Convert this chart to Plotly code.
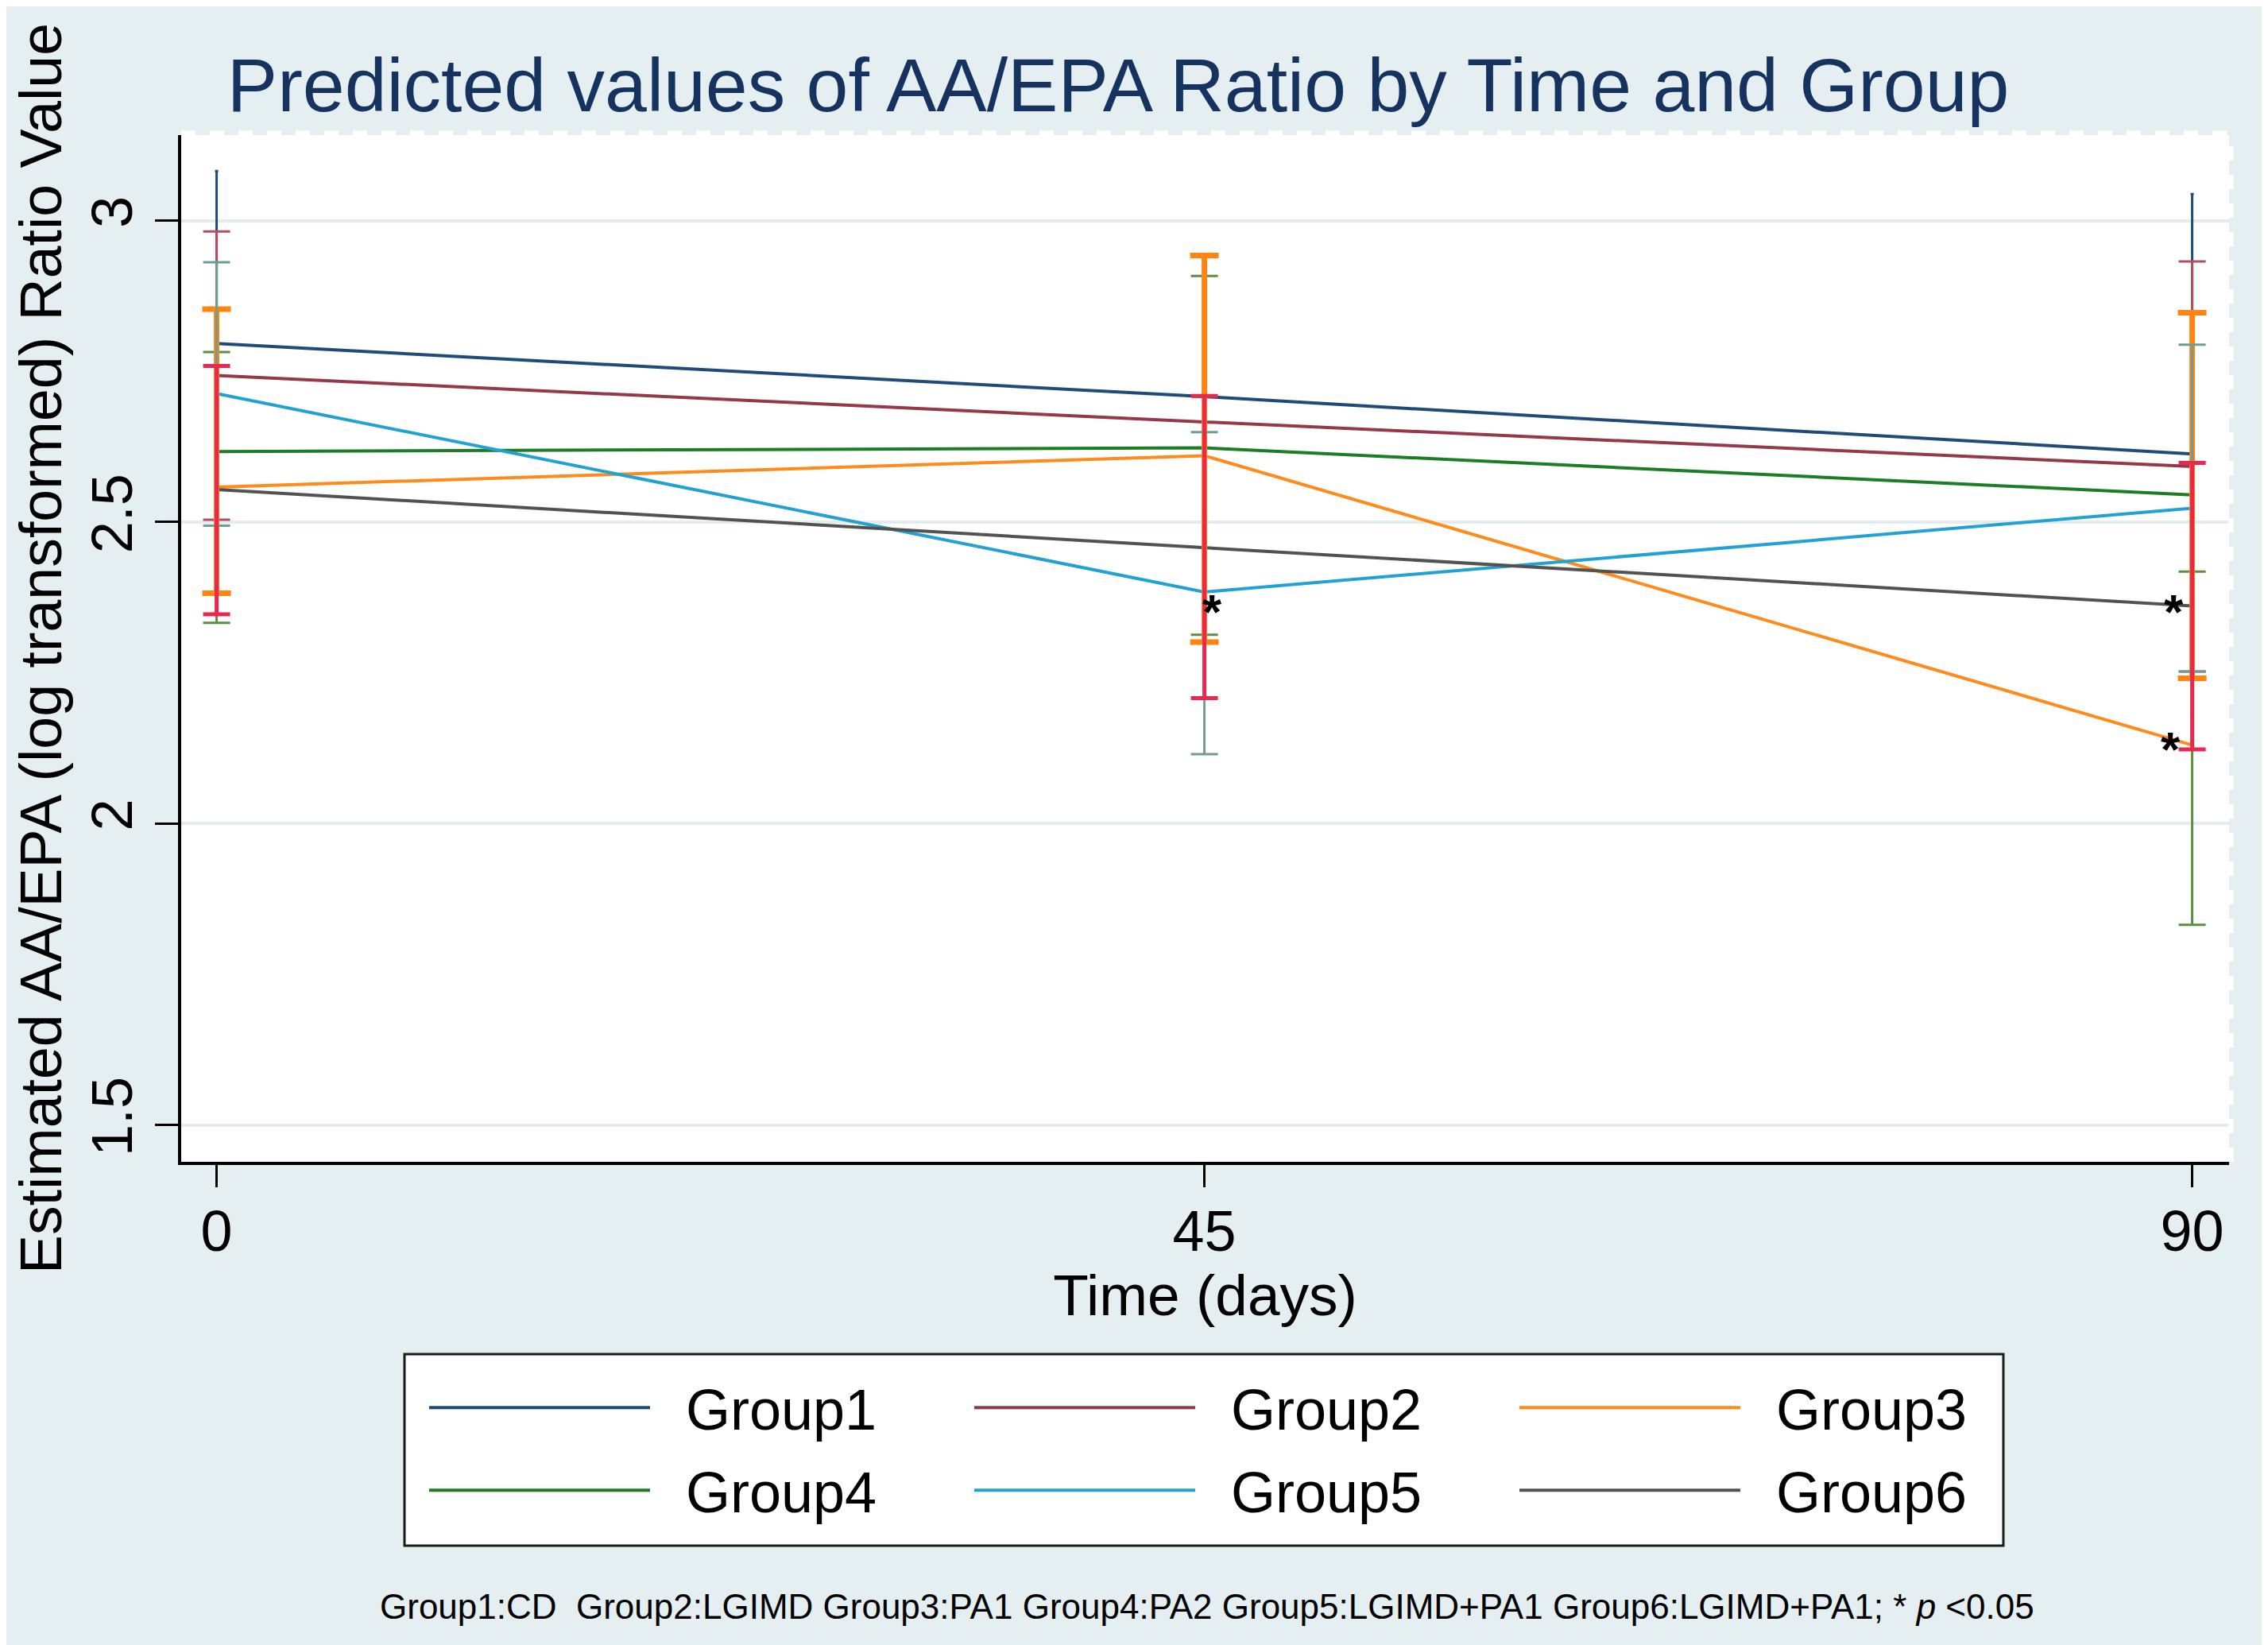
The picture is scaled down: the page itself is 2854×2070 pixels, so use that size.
import plotly.graph_objects as go

# ---------------- data ----------------
time = [0, 45, 90]
groups = ["Group1", "Group2", "Group3", "Group4", "Group5", "Group6"]

group1 = [2.796, 2.708, 2.613]
group2 = [2.743, 2.666, 2.592]
group3 = [2.558, 2.610, 2.130]
group4 = [2.617, 2.623, 2.545]
group5 = [2.713, 2.384, 2.523]
group6 = [2.554, 2.458, 2.361]

# confidence limits (None = not drawn)
ci_lo1 = [2.510, None, 2.182]
ci_hi1 = [3.082, None, 3.044]
ci_lo2 = [2.504, None, 2.252]
ci_hi2 = [2.982, None, 2.932]
ci_lo3 = [2.333, 2.313, 1.832]
ci_hi3 = [2.782, 2.908, 2.418]
ci_lo4 = [2.382, 2.301, 2.241]
ci_hi4 = [2.853, 2.942, 2.847]
ci_lo5 = [2.494, 2.115, 2.252]
ci_hi5 = [2.931, 2.649, 2.794]
ci_lo6 = [2.347, 2.208, 2.123]
ci_hi6 = [2.759, 2.709, 2.598]

# significance markers: (time, group)
star_times = [45, 90, 90]
star_groups = ["Group5", "Group6", "Group3"]

y_tickvals = [1.5, 2, 2.5, 3]
y_ticktext = ["1.5", "2", "2.5", "3"]
x_tickvals = [0, 45, 90]
x_ticktext = ["0", "45", "90"]

footnote = ("Group1:CD\u00a0 Group2:LGIMD Group3:PA1 Group4:PA2 Group5:LGIMD+PA1 "
            "Group6:LGIMD+PA1; * <i>p</i> <0.05")

# ---------------- styles ----------------
FONT = "Liberation Sans, Arial, sans-serif"
line_colors = ["#1f4b78", "#94394a", "#ff8c1a", "#1d7d25", "#22a2d2", "#525252"]
ci_colors = ["#1f4b78", "#b25062", "#5b8f45", "#ff8512", "#6f9c93", "#e8294f"]
ci_thick = [3, 3, 3, 7, 3, 5]
cap_width = [2, 17, 17, 18, 17, 17]
legend_ids = ["legend", "legend", "legend", "legend2", "legend2", "legend2"]
star_shift = [(10, -25), (-23, -7), (-27, -5)]

series = [group1, group2, group3, group4, group5, group6]
ci_lo = [ci_lo1, ci_lo2, ci_lo3, ci_lo4, ci_lo5, ci_lo6]
ci_hi = [ci_hi1, ci_hi2, ci_hi3, ci_hi4, ci_hi5, ci_hi6]

fig = go.Figure()

# lines
for name, vals, col, lg in zip(groups, series, line_colors, legend_ids):
    fig.add_trace(go.Scatter(
        x=time, y=vals, mode="lines", name="\u00a0\u00a0" + name,
        line=dict(color=col, width=4), legend=lg,
        hoverinfo="skip"))

# confidence intervals
for i, (vals, lo, hi) in enumerate(zip(series, ci_lo, ci_hi)):
    yc, up, dn = [], [], []
    for v, l, h in zip(vals, lo, hi):
        if l is None:
            yc.append(None); up.append(0); dn.append(0)
        else:
            yc.append(v); up.append(h - v); dn.append(v - l)
    fig.add_trace(go.Scatter(
        x=time, y=yc, mode="markers", showlegend=False,
        marker=dict(size=1, color="rgba(0,0,0,0)"),
        error_y=dict(type="data", symmetric=False, array=up, arrayminus=dn,
                     color=ci_colors[i], thickness=ci_thick[i], width=cap_width[i]),
        hoverinfo="skip"))

# asterisks
lookup = dict(zip(groups, series))
annotations = []
for (t, g), (dx, dy) in zip(zip(star_times, star_groups), star_shift):
    annotations.append(dict(
        x=t, y=lookup[g][time.index(t)], xref="x", yref="y",
        text="<b>*</b>", showarrow=False, xanchor="center", yanchor="middle",
        xshift=dx, yshift=dy, font=dict(family=FONT, size=62, color="black")))

annotations.append(dict(
    x=0.501, y=-0.4334, xref="paper", yref="paper", text=footnote,
    showarrow=False, xanchor="center", yanchor="middle",
    font=dict(family=FONT, size=44, color="black")))

legend_common = dict(orientation="h", xanchor="left", yanchor="top",
                     entrywidthmode="pixels", entrywidth=370,
                     itemwidth=278, indentation=23,
                     bgcolor="rgba(0,0,0,0)", borderwidth=0,
                     font=dict(family=FONT, size=72, color="black"))

shapes = [
    # legend frame
    dict(type="rect", xref="paper", yref="paper",
         x0=0.10904, x1=0.88979, y0=-0.37384, y1=-0.18731,
         line=dict(color="#1a1a1a", width=3), fillcolor="white", layer="above"),
    # dashed outline of plot region (top and right)
    dict(type="line", xref="paper", yref="paper", x0=0, x1=1, y0=1.002, y1=1.002,
         line=dict(color="white", width=6, dash="dash"), layer="above"),
    dict(type="line", xref="paper", yref="paper", x0=1.001, x1=1.001, y0=0, y1=1.002,
         line=dict(color="white", width=6, dash="dash"), layer="above"),
]

fig.update_layout(
    width=2846, height=2062,
    margin=dict(l=220, r=49, t=162, b=608),
    paper_bgcolor="#e5eff2", plot_bgcolor="white",
    title=dict(text="Predicted values of AA/EPA Ratio by Time and Group",
               x=0.4916, xref="container", xanchor="center",
               y=0.952, yref="container", yanchor="middle",
               font=dict(family=FONT, size=95, color="#16325e")),
    font=dict(family=FONT, color="black"),
    showlegend=True,
    legend=dict(x=0.1102, y=-0.1981, **legend_common),
    legend2=dict(x=0.1102, y=-0.2786, **legend_common),
    annotations=annotations,
    shapes=shapes,
)

fig.update_xaxes(
    range=[-1.614, 91.68], tickvals=x_tickvals, ticktext=x_ticktext,
    showgrid=False, zeroline=False,
    showline=True, linecolor="black", linewidth=4,
    ticks="outside", ticklen=28, tickwidth=3, tickcolor="black",
    ticklabelstandoff=-6,
    tickfont=dict(family=FONT, size=72, color="black"),
    title=dict(text="Time (days)", standoff=0,
               font=dict(family=FONT, size=73, color="black")))

fig.update_yaxes(
    range=[1.439, 3.1417], tickvals=y_tickvals, ticktext=y_ticktext,
    tickangle=-90,
    showgrid=True, gridcolor="#e3edf0", gridwidth=4, zeroline=False,
    showline=True, linecolor="black", linewidth=4,
    ticks="outside", ticklen=29, tickwidth=3, tickcolor="black",
    tickfont=dict(family=FONT, size=72, color="black"),
    title=dict(text="Estimated AA/EPA (log transformed) Ratio Value", standoff=0,
               font=dict(family=FONT, size=73.5, color="black")))

fig.write_html("out.html")
